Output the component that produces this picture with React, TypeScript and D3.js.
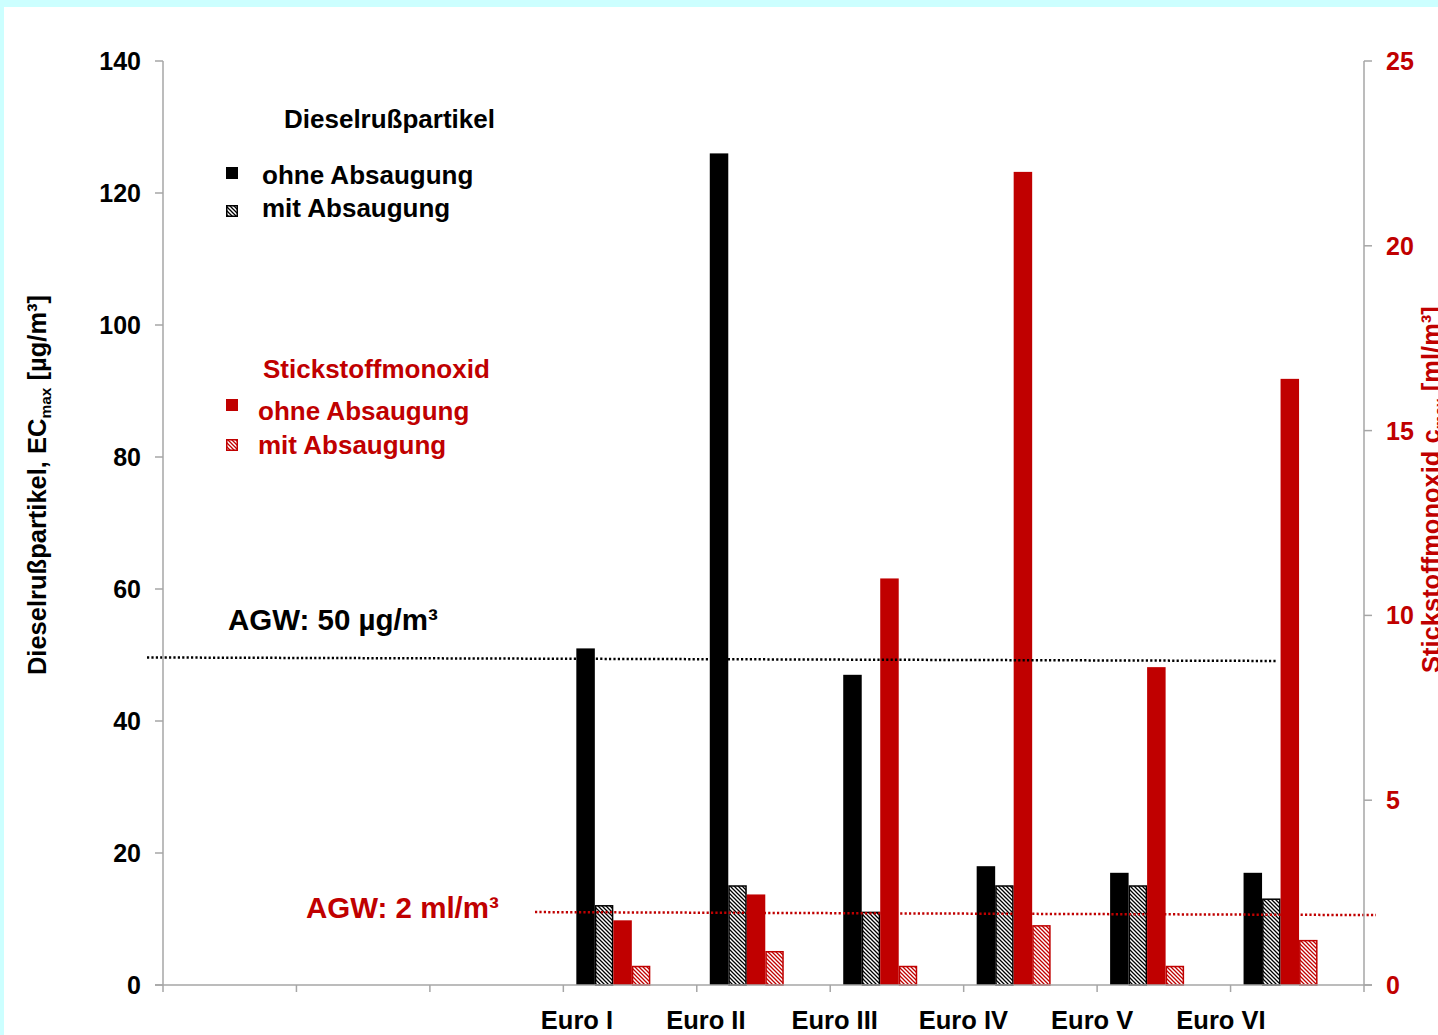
import React from "react";
import * as d3 from "d3";

// Categories along the x axis (first three slots are empty)
const categories = ["c0", "c1", "c2", "Euro I", "Euro II", "Euro III", "Euro IV", "Euro V", "Euro VI"];
const euroLabels = ["Euro I", "Euro II", "Euro III", "Euro IV", "Euro V", "Euro VI"];

// Dieselrußpartikel EC_max [µg/m³]
const russOhne = [51, 126, 47, 18, 17, 17];
const russMit = [12, 15, 11, 15, 15, 13];
// Stickstoffmonoxid c_max [ml/m³]
const noOhne = [1.75, 2.45, 11, 22, 8.6, 16.4];
const noMit = [0.5, 0.9, 0.5, 1.6, 0.5, 1.2];

const leftTicks = [0, 20, 40, 60, 80, 100, 120, 140];
const rightTicks = [0, 5, 10, 15, 20, 25];

const agwRuss = 49.4;
const agwNo = 2;

const RED = "#c00000";
const AXIS = "#a6a6a6";
const FONT = "'Liberation Sans', Arial, sans-serif";

const seriesKeys = ["russOhne", "russMit", "noOhne", "noMit"];

export default function App() {
  const W = 1438;
  const H = 1035;
  const x0 = 163;
  const x1 = 1364;
  const yTop = 61;
  const yBot = 985;

  const x = d3.scaleBand<string>().domain(categories).range([x0, x1]).padding(0);
  const inner = d3.scaleBand<string>().domain(seriesKeys).range([13, 87]).padding(0);
  const yL = d3.scaleLinear().domain([0, 140]).range([yBot, yTop]);
  const yR = d3.scaleLinear().domain([0, 25]).range([yBot, yTop]);
  const labelX = d3.scalePoint<string>().domain(euroLabels).range([577, 1221]);

  const bars: { key: string; cat: string; v: number; axis: "L" | "R" }[] = [];
  euroLabels.forEach((cat, i) => {
    bars.push({ key: "russOhne", cat, v: russOhne[i], axis: "L" });
    bars.push({ key: "russMit", cat, v: russMit[i], axis: "L" });
    bars.push({ key: "noOhne", cat, v: noOhne[i], axis: "R" });
    bars.push({ key: "noMit", cat, v: noMit[i], axis: "R" });
  });

  const fillFor = (k: string) =>
    k === "russOhne" ? "#000" : k === "russMit" ? "url(#hatchBlack)" : k === "noOhne" ? RED : "url(#hatchRed)";
  const strokeFor = (k: string) =>
    k === "russMit" ? "#000" : k === "noMit" ? RED : "none";

  const bw = inner.bandwidth();
  const LEG = 26;

  return (
    <svg
      width={W}
      height={H}
      style={{ position: "absolute", left: 0, top: 0, display: "block" }}
      fontFamily={FONT}
    >
      <defs>
        <pattern id="hatchBlack" patternUnits="userSpaceOnUse" width="4" height="4">
          <rect width="4" height="4" fill="#fff" />
          <path d="M-1,-1 L5,5 M3,-1 L5,1 M-1,3 L1,5" stroke="#000" strokeWidth="1.3" />
        </pattern>
        <pattern id="hatchRed" patternUnits="userSpaceOnUse" width="4" height="4">
          <rect width="4" height="4" fill="#fff" />
          <path d="M-1,-1 L5,5 M3,-1 L5,1 M-1,3 L1,5" stroke={RED} strokeWidth="1.3" />
        </pattern>
      </defs>

      {/* frame */}
      <rect x={0} y={0} width={W} height={H} fill="#ccffff" />
      <rect x={4} y={7} width={W} height={H} fill="#fff" />

      {/* bars */}
      {bars.map((b, i) => {
        const y = b.axis === "L" ? yL(b.v) : yR(b.v);
        const bx = (x(b.cat) as number) + (inner(b.key) as number);
        const s = strokeFor(b.key);
        return (
          <rect
            key={i}
            x={bx + (s !== "none" ? 0.75 : 0)}
            y={y}
            width={bw - (s !== "none" ? 1.5 : 0)}
            height={yBot - y}
            fill={fillFor(b.key)}
            stroke={s}
            strokeWidth={1.5}
          />
        );
      })}

      {/* AGW reference lines */}
      <line
        x1={147}
        x2={1277}
        y1={yL(agwRuss) - 1.5}
        y2={yL(agwRuss) + 2}
        stroke="#000"
        strokeWidth={2.5}
        strokeDasharray="2.2,2.2"
      />
      <line
        x1={535}
        x2={1376}
        y1={yR(agwNo) + 1}
        y2={yR(agwNo) + 4}
        stroke={RED}
        strokeWidth={2.5}
        strokeDasharray="2.2,2.2"
      />
      <text x={228} y={630} fontSize={29.5} fontWeight="bold" fill="#000">
        AGW: 50 µg/m³
      </text>
      <text x={306} y={918} fontSize={29.5} fontWeight="bold" fill={RED}>
        AGW: 2 ml/m³
      </text>

      {/* left axis */}
      <line x1={x0} x2={x0} y1={yTop} y2={yBot} stroke={AXIS} strokeWidth={1.5} />
      {leftTicks.map((t) => (
        <g key={"l" + t}>
          <line x1={x0 - 8} x2={x0} y1={yL(t)} y2={yL(t)} stroke={AXIS} strokeWidth={1.5} />
          <text
            x={141}
            y={yL(t)}
            textAnchor="end"
            dominantBaseline="central"
            fontSize={25}
            fontWeight="bold"
            fill="#000"
          >
            {t}
          </text>
        </g>
      ))}

      {/* right axis */}
      <line x1={x1} x2={x1} y1={yTop} y2={yBot + 7} stroke={AXIS} strokeWidth={1.5} />
      {rightTicks.map((t) => (
        <g key={"r" + t}>
          <line x1={x1} x2={x1 + 8} y1={yR(t)} y2={yR(t)} stroke={AXIS} strokeWidth={1.5} />
          <text
            x={1386}
            y={yR(t)}
            textAnchor="start"
            dominantBaseline="central"
            fontSize={25}
            fontWeight="bold"
            fill={RED}
          >
            {t}
          </text>
        </g>
      ))}

      {/* bottom axis */}
      <line x1={x0 - 8} x2={x1 + 8} y1={yBot} y2={yBot} stroke={AXIS} strokeWidth={1.5} />
      {categories.map((c) => (
        <line
          key={"t" + c}
          x1={x(c) as number}
          x2={x(c) as number}
          y1={yBot}
          y2={yBot + 7}
          stroke={AXIS}
          strokeWidth={1.5}
        />
      ))}
      {euroLabels.map((c) => (
        <text
          key={"xl" + c}
          x={labelX(c)}
          y={1029}
          textAnchor="middle"
          fontSize={25.5}
          fontWeight="bold"
          fill="#000"
        >
          {c}
        </text>
      ))}

      {/* axis titles */}
      <text
        transform={`translate(46,485) rotate(-90)`}
        textAnchor="middle"
        fontSize={25.5}
        fontWeight="bold"
        fill="#000"
      >
        Dieselrußpartikel, EC
        <tspan fontSize={15.5} dy={5}>max</tspan>
        <tspan dy={-5}> [µg/m³]</tspan>
      </text>
      <text
        transform={`translate(1440,673) rotate(-90)`}
        textAnchor="start"
        fontSize={25.5}
        fontWeight="bold"
        fill={RED}
      >
        Stickstoffmonoxid c
        <tspan fontSize={15.5} dy={5}>max</tspan>
        <tspan dy={-5}> [ml/m³]</tspan>
      </text>

      {/* legend */}
      <text x={284} y={128} fontSize={LEG} fontWeight="bold" fill="#000">
        Dieselrußpartikel
      </text>
      <rect x={226} y={167} width={12} height={12} fill="#000" />
      <text x={262} y={184} fontSize={LEG} fontWeight="bold" fill="#000">
        ohne Absaugung
      </text>
      <rect x={226.75} y={205.75} width={10.5} height={10.5} fill="url(#hatchBlack)" stroke="#000" strokeWidth={1.5} />
      <text x={262} y={217} fontSize={LEG} fontWeight="bold" fill="#000">
        mit Absaugung
      </text>

      <text x={263} y={378} fontSize={LEG} fontWeight="bold" fill={RED}>
        Stickstoffmonoxid
      </text>
      <rect x={226} y={399} width={12} height={12} fill={RED} />
      <text x={258} y={420} fontSize={LEG} fontWeight="bold" fill={RED}>
        ohne Absaugung
      </text>
      <rect x={226.75} y={439.75} width={10.5} height={10.5} fill="url(#hatchRed)" stroke={RED} strokeWidth={1.5} />
      <text x={258} y={454} fontSize={LEG} fontWeight="bold" fill={RED}>
        mit Absaugung
      </text>
    </svg>
  );
}
